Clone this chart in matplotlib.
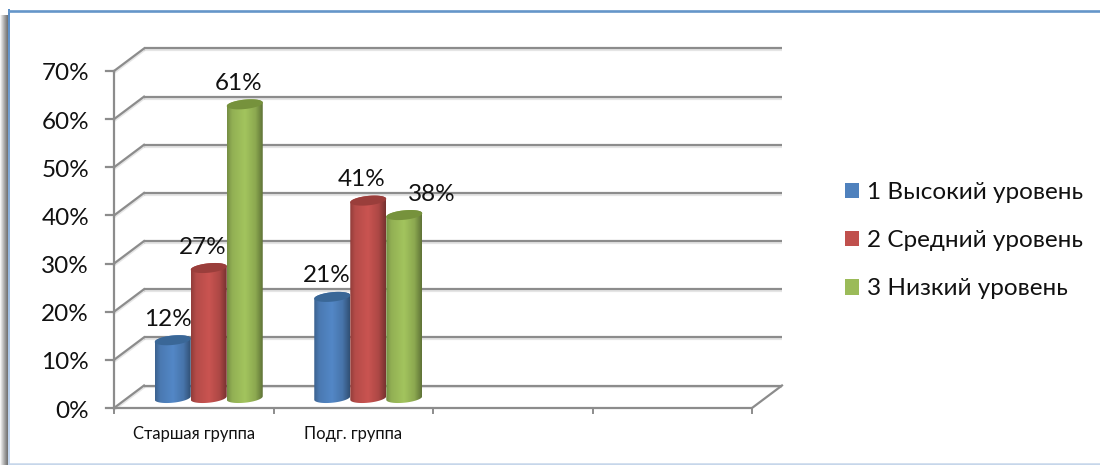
import numpy as np
import matplotlib
matplotlib.use("Agg")
import matplotlib.pyplot as plt
import matplotlib.patheffects as pe
from matplotlib.patches import Patch, Polygon
from matplotlib.transforms import Affine2D, IdentityTransform

plt.rcParams["font.family"] = ["Lato", "Open Sans", "DejaVu Sans"]

# data
categories = ["Старшая группа", "Подг. группа", "", ""]
series_names = ["1 Высокий уровень", "2 Средний уровень", "3 Низкий уровень"]
high = [12, 21]
medium = [27, 41]
low = [61, 38]
y_ticks = [0, 10, 20, 30, 40, 50, 60, 70]

series_values = [high, medium, low]
base_colors = ["#4F81BD", "#C0504D", "#9BBB59"]
cap_colors = ["#3A6797", "#9A3E3B", "#76923C"]
GRID = "#8C8C8C"
TEXT_SIZE = 17.5

W, H = 1100, 465
fig = plt.figure(figsize=(W / 100, H / 100), dpi=100, facecolor="white")
px = IdentityTransform()

# frame with the soft shadow on the left
bg = fig.add_axes([0, 0, 1, 1], zorder=-1)
bg.axis("off")
shadow = np.linspace(1.0, 0.66, 64) ** 2
bg.imshow(shadow[None, :], cmap="gray", vmin=0, vmax=1, extent=(0, 8, H, 16),
          aspect="auto", interpolation="bilinear")
left_line = np.linspace(0, 1, 64)[:, None, None] * (np.array([0.78, 0.85, 0.94]) - np.array([0.36, 0.56, 0.78])) + np.array([0.36, 0.56, 0.78])
bg.imshow(left_line, extent=(8, 10, H, 10), aspect="auto", interpolation="bilinear")
bg.plot([8, W], [11, 11], color="#6596C9", lw=1.9, solid_capstyle="butt")
bg.plot([8, W], [463.5, 463.5], color="#C6D6EA", lw=1.8, solid_capstyle="butt")
bg.set_xlim(0, W)
bg.set_ylim(H, 0)

# the axes is the front plane of the 3d box
ax = fig.add_axes([114 / W, (H - 408) / H, 638 / W, 337 / H])
ax.axis("off")
xlim = (-0.5, 3.5)
ylim = (0, 70)
ax.set_xlim(xlim)
ax.set_ylim(ylim)

back = ax.transData + Affine2D().translate(30, 22.5)
mid = ax.transData + Affine2D().translate(15, 10)
shade = [pe.SimpleLineShadow(offset=(0, -1.4), shadow_color="#999999", alpha=0.25), pe.Normal()]

for v in y_ticks:
    ax.plot(xlim, [v, v], transform=back, color=GRID, lw=1.6, clip_on=False,
            solid_capstyle="butt", path_effects=shade, zorder=1)
    # side wall diagonal
    x0, y0 = ax.transData.transform((xlim[0], v))
    ax.plot([x0, x0 + 30], [y0, y0 + 22.5], transform=px, color=GRID, lw=1.6,
            clip_on=False, path_effects=shade, zorder=1)
    ax.plot([x0 - 8, x0], [y0, y0], transform=px, color=GRID, lw=1.6, clip_on=False, zorder=2)
    ax.annotate(f"{v}%", (xlim[0], v), xytext=(-25, -3), textcoords="offset pixels",
                ha="right", va="center", fontsize=TEXT_SIZE, color="#111111")

# floor and left edge
x1, y1 = ax.transData.transform((xlim[1], 0))
ax.plot(xlim, [0, 0], color=GRID, lw=1.6, clip_on=False, zorder=2, solid_capstyle="butt")
ax.plot([x1, x1 + 30], [y1, y1 + 22.5], transform=px, color=GRID, lw=1.6, clip_on=False, zorder=2)
ax.plot([xlim[0], xlim[0]], ylim, color=GRID, lw=1.6, clip_on=False, zorder=2)

for i in range(len(categories) + 1):
    x, y = ax.transData.transform((xlim[0] + i, 0))
    ax.plot([x, x], [y, y - 5], transform=px, color=GRID, lw=1.4, clip_on=False, zorder=2)
for i, name in enumerate(categories):
    ax.annotate(name, (i, 0), xytext=(0, -26), textcoords="offset pixels", ha="center",
                va="center", fontsize=11.9, color="#111111")

# cylinders
bar_w = 0.2257
rx = bar_w / 2
ry = 0.98
tilt = 0.36
t = np.linspace(0, 2 * np.pi, 80)
label_shift = {(0, 0): -5, (0, 1): -6, (0, 2): -6, (1, 0): -6, (1, 1): -7, (1, 2): 28}

for s, values in enumerate(series_values):
    rgb = np.array(matplotlib.colors.to_rgb(base_colors[s]))
    stops = np.interp(np.linspace(0, 1, 64), [0, 0.14, 0.5, 0.8, 1], [0.76, 0.94, 1.05, 0.9, 0.62])
    grad = np.clip(stops[:, None] * rgb, 0, 1)[None, :, :]
    for c, v in enumerate(values):
        xc = c + (s - 1) * bar_w
        z = 10 + 3 * s
        ex = rx * np.cos(t)
        ey = ry * np.sin(t) + tilt * np.cos(t)
        lower = t > np.pi
        upper = t <= np.pi
        outline = np.concatenate([
            np.column_stack([xc + ex[lower], ey[lower]]),
            np.column_stack([xc + ex[upper], v + ey[upper]]),
        ])
        body = Polygon(outline, closed=True, transform=mid)
        im = ax.imshow(grad, extent=(xc - rx, xc + rx, 0 - 2, v + 2), aspect="auto",
                       interpolation="bilinear", transform=mid, zorder=z)
        im.set_clip_path(body)
        ax.fill(xc + ex, v + ey, color=cap_colors[s], transform=mid, lw=0, zorder=z + 1, clip_on=False)
        ax.annotate(f"{v}%", (xc, v), xycoords=mid, xytext=(label_shift[(c, s)], 21),
                    textcoords="offset pixels", ha="center", va="center",
                    fontsize=TEXT_SIZE, color="#111111", zorder=30)

ax.set_xlim(xlim)
ax.set_ylim(ylim)

handles = [Patch(facecolor=col, edgecolor="none") for col in base_colors]
fig.legend(handles, series_names, loc="upper left", bbox_to_anchor=(832.5 / W, 1 - 170 / H),
           frameon=False, fontsize=TEXT_SIZE, handlelength=0.6, handleheight=0.6,
           handletextpad=0.3, labelspacing=1.115, borderpad=0, labelcolor="#111111")

fig.savefig("out.png", dpi=100)
